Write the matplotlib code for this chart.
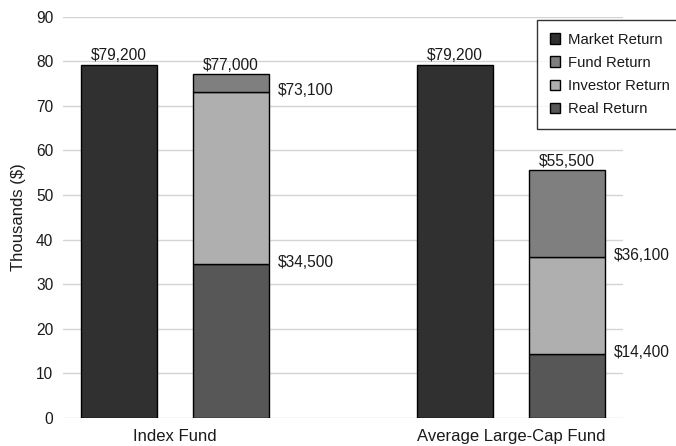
import matplotlib
matplotlib.use("Agg")
import matplotlib.pyplot as plt
from matplotlib.patches import Patch
import numpy as np

plt.rcParams['font.family'] = ['Liberation Sans', 'DejaVu Sans']

# data (thousands of $)
funds = ["Index Fund", "Average Large-Cap Fund"]
market_return = [79.2, 79.2]
real_return = [34.5, 14.4]
investor_return = [73.1, 36.1]   # cumulative top of investor segment
fund_return = [77.0, 55.5]       # cumulative top of fund segment

c_market = "#303030"
c_fund = "#7f7f7f"
c_investor = "#afafaf"
c_real = "#575757"
txt = "#1a1a1a"

fig = plt.figure(figsize=(6.76, 4.46), dpi=100)
ax = fig.add_axes([0.0932, 0.0628, 0.8284, 0.9002])

x = np.arange(len(funds))
w = 0.226
off = 0.167

real = np.array(real_return)
inv = np.array(investor_return) - real
fnd = np.array(fund_return) - np.array(investor_return)

kw = dict(width=w, edgecolor="black", linewidth=1, zorder=3)
ax.bar(x - off, market_return, color=c_market, **kw)
ax.bar(x + off, real, color=c_real, **kw)
ax.bar(x + off, inv, bottom=real, color=c_investor, **kw)
ax.bar(x + off, fnd, bottom=real + inv, color=c_fund, **kw)

def money(v):
    return "${:,.0f}".format(v * 1000)

vfs = 11.2
for i in range(len(funds)):
    ax.annotate(money(market_return[i]), (x[i] - off, market_return[i]),
                xytext=(0, 1), textcoords="offset points",
                ha="center", va="bottom", fontsize=vfs, color=txt)
    ax.annotate(money(fund_return[i]), (x[i] + off, fund_return[i]),
                xytext=(0, 1), textcoords="offset points",
                ha="center", va="bottom", fontsize=vfs, color=txt)
    for v in (investor_return[i], real_return[i]):
        ax.annotate(money(v), (x[i] + off + w / 2, v),
                    xytext=(6, 1), textcoords="offset points",
                    ha="left", va="center", fontsize=vfs, color=txt)

ax.set_xlim(-1 / 3, 4 / 3)
ax.set_ylim(0, 90)
ax.set_yticks(range(0, 91, 10))
ax.set_xticks(x)
ax.set_xticklabels(funds, fontsize=12)
ax.tick_params(axis="both", length=0, labelcolor=txt)
ax.tick_params(axis="y", pad=7, labelsize=11.2)
ax.tick_params(axis="x", pad=8)
ax.yaxis.grid(True, color="#d4d4d4", linewidth=1, zorder=0)
ax.set_axisbelow(True)
for s in ax.spines.values():
    s.set_visible(False)
ax.set_ylabel("Thousands ($)", fontsize=12, color=txt, labelpad=7)

handles = [Patch(facecolor=c_market, edgecolor="black", label="Market Return"),
           Patch(facecolor=c_fund, edgecolor="black", label="Fund Return"),
           Patch(facecolor=c_investor, edgecolor="black", label="Investor Return"),
           Patch(facecolor=c_real, edgecolor="black", label="Real Return")]
leg = fig.legend(handles=handles, loc="upper left",
                 bbox_to_anchor=(537 / 676, 1 - 20 / 446),
                 fontsize=10.7, frameon=True, fancybox=False,
                 handlelength=0.7, handleheight=0.7, handletextpad=0.55,
                 labelspacing=0.62, borderpad=0.85, borderaxespad=0)
leg.get_frame().set_edgecolor("black")
leg.get_frame().set_linewidth(1)
for t in leg.get_texts():
    t.set_color(txt)

fig.savefig("out.png", dpi=100)
